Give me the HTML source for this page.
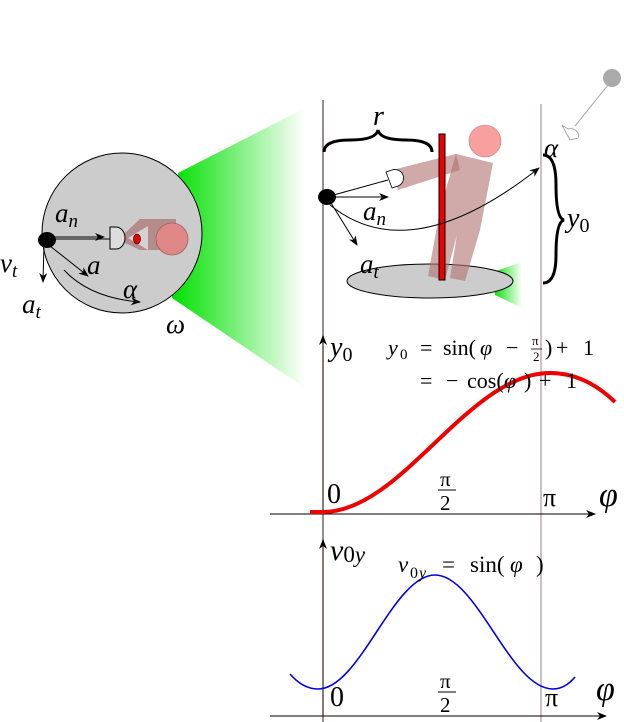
<!DOCTYPE html>
<html><head><meta charset="utf-8"><style>body{margin:0;background:#fff}svg{display:block}text{font-family:"Liberation Serif",serif;fill:#000}.i{font-style:italic}.n{font-style:normal}</style></head><body>
<svg width="624" height="722" viewBox="0 0 624 722" xmlns="http://www.w3.org/2000/svg">
<defs>
<linearGradient id="g" x1="0" x2="1" y1="0" y2="0"><stop offset="0" stop-color="#00e000"/><stop offset="1" stop-color="#00e000" stop-opacity="0"/></linearGradient>
<linearGradient id="g2" x1="0" x2="1"><stop offset="0" stop-color="#00e000"/><stop offset="1" stop-color="#00e000" stop-opacity="0"/></linearGradient>
<marker id="ar" markerWidth="10" markerHeight="8" refX="9" refY="4" orient="auto" markerUnits="userSpaceOnUse"><path d="M0,0 L10,4 L0,8 L3,4z" fill="#000"/></marker>
</defs>
<polygon points="178,173 305,108 305,388 172,298" fill="url(#g)"/>
<circle cx="122" cy="233" r="80" fill="#cccccc" stroke="#000" stroke-width="1"/>
<polygon points="125,233 140,219 176,219 176,250 140,250 125,243" fill="#b08080" opacity="0.85"/>
<polygon points="128,238 148,226 148,250" fill="#d8d0d0"/>
<circle cx="172" cy="239" r="16" fill="#e08888" stroke="#a06060" stroke-width="0.8"/>
<ellipse cx="137" cy="239" rx="3.5" ry="5" fill="#e00" stroke="#000" stroke-width="0.6"/>
<path d="M110,227 L116,227 A9,11 0 0 1 116,249 L110,249 Z" fill="#ddd" stroke="#000" stroke-width="1"/>
<line x1="50" y1="239" x2="110" y2="239" stroke="#000" stroke-width="1"/>
<line x1="50" y1="237" x2="104" y2="237" stroke="#000" marker-end="url(#ar)"/>
<line x1="44" y1="244" x2="43" y2="282" stroke="#000" marker-end="url(#ar)"/>
<line x1="50" y1="246" x2="88" y2="276" stroke="#000" marker-end="url(#ar)"/>
<path d="M64,270 Q90,298 140,302" fill="none" stroke="#000" marker-end="url(#ar)"/>
<ellipse cx="47" cy="240" rx="9" ry="8" fill="#000"/>
<text class="i" x="55" y="222" font-size="27">a<tspan font-size="19" dy="5">n</tspan></text>
<text class="i" x="87" y="274" font-size="27">a</text>
<text class="i" x="123" y="298" font-size="27">α</text>
<text class="i" x="0" y="272" font-size="27">v<tspan font-size="19" dy="5">t</tspan></text>
<text class="i" x="22" y="313" font-size="27">a<tspan font-size="19" dy="5">t</tspan></text>
<text class="i" x="166" y="333" font-size="27">ω</text>
<line x1="323" y1="100" x2="323" y2="722" stroke="#807070" stroke-width="1.6"/>
<line x1="541" y1="104" x2="541" y2="722" stroke="#c0b0b0" stroke-width="1.6"/>
<polygon points="493,272 522,262 522,308 495,295" fill="url(#g2)"/>
<ellipse cx="430" cy="281" rx="83" ry="17" fill="#cccccc" stroke="#000" stroke-width="1"/>
<circle cx="485" cy="141" r="16" fill="#f8a0a0" stroke="#c08080" stroke-width="0.6"/>
<polygon points="392,170 456,154 460,170 398,190" fill="#b07070" opacity="0.6"/>
<polygon points="456,154 493,163 480,230 465,281 450,278 457,235 445,280 428,276 440,210" fill="#b07070" opacity="0.6"/>
<rect x="439" y="134" width="6" height="146" fill="#e00" stroke="#000" stroke-width="1"/>
<path d="M386,172 L392,170 A7,7 0 0 1 398,186 L392,188 Z" fill="#fff" stroke="#000" stroke-width="0.8"/>
<line x1="330" y1="196" x2="388" y2="180" stroke="#000"/>
<line x1="334" y1="197" x2="388" y2="197" stroke="#000" marker-end="url(#ar)"/>
<line x1="331" y1="203" x2="357" y2="245" stroke="#000" marker-end="url(#ar)"/>
<path d="M330,205 Q410,270 539,168" fill="none" stroke="#000" marker-end="url(#ar)"/>
<ellipse cx="327" cy="197" rx="9" ry="8" fill="#000"/>
<path d="M324,152 Q324,140 350,140 Q376,140 378,130 Q380,140 406,140 Q432,140 432,152" fill="none" stroke="#000" stroke-width="3"/>
<path d="M543,155 Q556,155 556,185 Q556,218 564,220 Q556,222 556,255 Q556,283 543,283" fill="none" stroke="#000" stroke-width="3"/>
<text class="i" x="373" y="125" font-size="28">r</text>
<text class="i" x="363" y="220" font-size="27">a<tspan font-size="19" dy="5">n</tspan></text>
<text class="i" x="360" y="273" font-size="27">a<tspan font-size="19" dy="5">t</tspan></text>
<text class="i" x="544" y="157" font-size="27">α</text>
<text class="i" x="567" y="227" font-size="28">y<tspan class="n" font-size="20" dy="5">0</tspan></text>
<line x1="575" y1="126" x2="612" y2="80" stroke="#aaa"/>
<circle cx="612" cy="78" r="9" fill="#aaa"/>
<path d="M562,125 L568,129 A8,7 0 0 1 578,138 L570,140 Z" fill="#fff" stroke="#999" stroke-width="0.8"/>
<!-- graph 1 -->
<line x1="323" y1="514" x2="323" y2="336" stroke="#807070" stroke-width="1.6" marker-end="url(#ar)"/>
<line x1="270" y1="514" x2="595" y2="514" stroke="#000" marker-end="url(#ar)"/>
<path d="M310,512 L323,512 C402,512 468,373 550,373 Q585,373 615,402" fill="none" stroke="#e00" stroke-width="4"/>
<text class="i" x="330" y="356" font-size="28">y<tspan class="n" font-size="20" dy="5">0</tspan></text>
<g font-size="22">
<text class="i" x="388" y="355">y</text><text class="n" x="400" y="359" font-size="15">0</text>
<text class="n" x="420" y="355">=</text>
<text class="n" x="443" y="355">sin(</text>
<text class="i" x="480" y="355">φ</text>
<text class="n" x="506" y="355">−</text>
<text class="n" x="532" y="345" font-size="13">π</text><line x1="531" y1="349" x2="542" y2="349" stroke="#000" stroke-width="0.8"/><text class="n" x="533" y="361" font-size="13">2</text>
<text class="n" x="545" y="355">)</text>
<text class="n" x="556" y="355">+</text>
<text class="n" x="583" y="355">1</text>
<text class="n" x="420" y="388">=</text>
<text class="n" x="446" y="388">−</text>
<text class="n" x="467" y="388">cos(</text>
<text class="i" x="504" y="388">φ</text>
<text class="n" x="524" y="388">)</text>
<text class="n" x="539" y="388">+</text>
<text class="n" x="566" y="388">1</text>
</g>
<text class="n" x="327" y="503" font-size="28">0</text>
<text class="n" x="440" y="486" font-size="21">π</text><line x1="438" y1="490" x2="456" y2="490" stroke="#000" stroke-width="1"/><text class="n" x="440" y="510" font-size="21">2</text>
<text class="n" x="543" y="506" font-size="26">π</text>
<text class="i" x="599" y="506" font-size="34">φ</text>
<!-- graph 2 -->
<line x1="323" y1="716" x2="323" y2="540" stroke="#807070" stroke-width="1.6" marker-end="url(#ar)"/>
<line x1="270" y1="716" x2="606" y2="716" stroke="#000" marker-end="url(#ar)"/>
<path d="M290,674 Q303,689 318,689 C360,689 393,575 435,575 C477,575 510,689 553,689 Q565,689 575,677" fill="none" stroke="#00e" stroke-width="1.6"/>
<text class="i" x="330" y="560" font-size="30">v<tspan class="n" font-size="23" dy="2">0</tspan><tspan font-size="23">y</tspan></text>
<g font-size="23">
<text class="i" x="398" y="572">v</text><text class="n" x="410" y="578" font-size="16">0</text><text class="i" x="419" y="578" font-size="16">y</text>
<text class="n" x="442" y="572">=</text>
<text class="n" x="470" y="572">sin(</text>
<text class="i" x="510" y="572">φ</text>
<text class="n" x="536" y="572">)</text>
</g>
<text class="n" x="330" y="706" font-size="28">0</text>
<text class="n" x="440" y="688" font-size="21">π</text><line x1="438" y1="692" x2="456" y2="692" stroke="#000" stroke-width="1"/><text class="n" x="440" y="712" font-size="21">2</text>
<text class="n" x="545" y="706" font-size="26">π</text>
<text class="i" x="596" y="700" font-size="34">φ</text>
</svg>
</body></html>
